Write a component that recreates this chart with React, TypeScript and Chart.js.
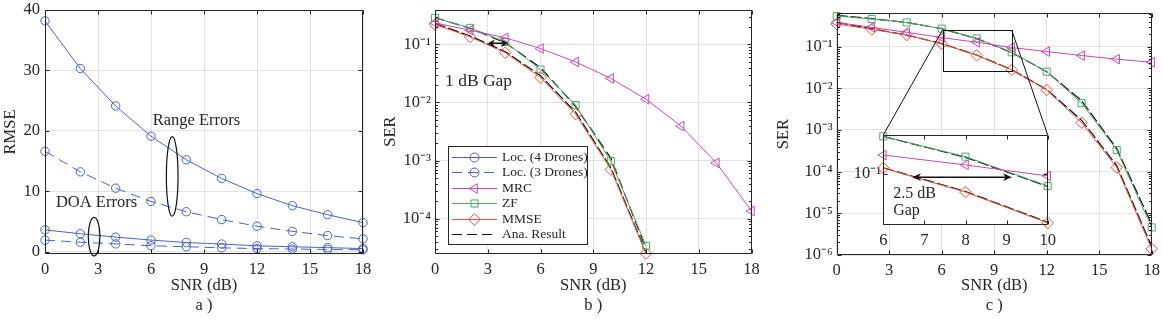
import React, { useEffect, useRef } from "react";
import { Chart, registerables } from "chart.js";
import { drawPoint } from "chart.js/helpers";

Chart.register(...registerables);

// ---------------- data ----------------
const snr = [0, 2, 4, 6, 8, 10, 12, 14, 16, 18];
const snrShort = [0, 2, 4, 6, 8, 10, 12];

// panel a (RMSE)
const rangeLoc4 = [38.2, 30.3, 24.1, 19.1, 15.2, 12.1, 9.6, 7.6, 6.1, 4.8];
const rangeLoc3 = [16.6, 13.2, 10.5, 8.3, 6.6, 5.3, 4.2, 3.35, 2.65, 2.1];
const doaLoc4 = [3.6, 2.95, 2.4, 1.9, 1.5, 1.25, 0.95, 0.8, 0.65, 0.5];
const doaLoc3 = [1.9, 1.55, 1.27, 0.97, 0.8, 0.62, 0.5, 0.42, 0.35, 0.3];

// panel b (SER)
const bMRC = [0.235, 0.176, 0.13, 0.085, 0.05, 0.026, 0.0114, 0.0039, 0.00091, 0.000135];
const bZF = [0.286, 0.193, 0.11, 0.037, 0.009, 0.00098, 3.4e-5];
const bMMSE = [0.22, 0.135, 0.072, 0.027, 0.0063, 0.0007, 2.5e-5];
const bAnaZF = [0.29, 0.19, 0.107, 0.04, 0.0085, 0.0011, 3.0e-5];
const bAnaMMSE = [0.23, 0.14, 0.075, 0.029, 0.0068, 0.00075, 2.6e-5];

// panel c (SER)
const cMRC = [0.38, 0.29, 0.22, 0.165, 0.127, 0.095, 0.076, 0.061, 0.05, 0.042];
const cZF = [0.54, 0.46, 0.38, 0.27, 0.158, 0.073, 0.025, 0.0044, 0.00033, 4.6e-6];
const cMMSE = [0.35, 0.26, 0.19, 0.117, 0.062, 0.0275, 0.0091, 0.0015, 0.000126, 1.4e-6];
const cAnaZF = [0.56, 0.47, 0.38, 0.27, 0.155, 0.072, 0.025, 0.005, 0.00036, 5.5e-6];
const cAnaMMSE = [0.38, 0.27, 0.19, 0.118, 0.063, 0.028, 0.0093, 0.0017, 0.00014, 1.6e-6];

// ticks
const xTicks = [0, 3, 6, 9, 12, 15, 18];
const aYTicks = [0, 10, 20, 30, 40];
const bYTicks = [1e-4, 1e-3, 1e-2, 1e-1];
const cYTicks = [1e-6, 1e-5, 1e-4, 1e-3, 1e-2, 1e-1];
const insetXTicks = [6, 7, 8, 9, 10];
const insetYTicks = [1e-1];

// zoom window of panel c
const zoomX = [6.05, 10];
const zoomY = [0.026, 0.25];

// ---------------- style ----------------
const FONT = "'Liberation Serif', 'Times New Roman', serif";
const TXT = "#262626";
const GRID = "#e2e2e2";
const BLUE = "#4763c4";
const MAGENTA = "#cc48b4";
const GREEN = "#4caa66";
const RED = "#f4503a";
const BLACK = "#111111";
const NONE = "rgba(0,0,0,0)";
const TICK_SIZE = 16.5;
const ANA_DASH = [11, 3];

const SUP: Record<string, string> = {
  "-": "\u207B", "0": "\u2070", "1": "\u00B9", "2": "\u00B2", "3": "\u00B3",
  "4": "\u2074", "5": "\u2075", "6": "\u2076", "7": "\u2077", "8": "\u2078", "9": "\u2079",
};
const logLabel = (v: number) =>
  "10" + String(Math.round(Math.log10(v))).split("").map((c) => SUP[c] || c).join("");

function series(
  label: string, xs: number[], ys: number[], color: string,
  style: string | null, r: number, dash: number[], extra: any = {}
) {
  return {
    label,
    data: ys.map((y, i) => ({ x: xs[i], y })),
    borderColor: color,
    backgroundColor: NONE,
    borderWidth: 1,
    borderDash: dash,
    pointStyle: style || "circle",
    pointRadius: style ? r : 0,
    pointBorderColor: color,
    pointBackgroundColor: NONE,
    pointBorderWidth: 1,
    tension: 0,
    fill: false,
    clip: false,
    ...extra,
  };
}

function ana(label: string, xs: number[], ys: number[], extra: any = {}) {
  return series(label, xs, ys, BLACK, null, 0, ANA_DASH, { borderWidth: 1.2, ...extra });
}

function xAxis(min: number, max: number, ticks: number[], height: number, title: string[] | null, grid = true) {
  return {
    type: "linear",
    min, max, bounds: "data",
    afterBuildTicks: (s: any) => { s.ticks = ticks.map((v) => ({ value: v })); },
    afterFit: (s: any) => { s.height = height; s.paddingLeft = 0; s.paddingRight = 0; s.paddingTop = 0; s.paddingBottom = 0; },
    grid: { display: grid, color: GRID, lineWidth: 1, drawTicks: false },
    border: { display: false },
    ticks: {
      font: { family: FONT, size: TICK_SIZE }, color: TXT, padding: 6,
      maxRotation: 0, autoSkip: false, callback: (v: any) => String(v),
    },
    title: title
      ? { display: true, text: title, color: TXT, font: { family: FONT, size: 16.5, lineHeight: 1.22 }, padding: { top: 0, bottom: 10 } }
      : { display: false },
  };
}

function yAxis(type: string, min: number, max: number, ticks: number[], width: number, title: string | null, pad: number, grid = true) {
  return {
    type, min, max, bounds: "data",
    afterBuildTicks: (s: any) => { s.ticks = ticks.map((v) => ({ value: v })); },
    afterFit: (s: any) => { s.width = width; s.paddingLeft = 0; s.paddingRight = 0; s.paddingTop = 0; s.paddingBottom = 0; },
    grid: { display: grid, color: GRID, lineWidth: 1, drawTicks: false },
    border: { display: false },
    ticks: {
      font: { family: FONT, size: TICK_SIZE }, color: TXT, padding: pad, autoSkip: false,
      callback: (v: any) => (type === "logarithmic" ? logLabel(Number(v)) : String(v)),
    },
    title: title
      ? { display: true, text: title, color: TXT, font: { family: FONT, size: 16.5, lineHeight: 1.22 }, padding: { top: 1, bottom: 0 } }
      : { display: false },
  };
}

function framePlugin(id: string, logY: boolean) {
  return {
    id,
    afterDatasetsDraw(chart: any) {
      const { ctx, chartArea: a } = chart;
      const xs = chart.scales.x, ys = chart.scales.y;
      const L = Math.round(a.left) + 0.5, R = Math.round(a.right) - 0.5;
      const T = Math.round(a.top) + 0.5, B = Math.round(a.bottom) - 0.5;
      ctx.save();
      ctx.strokeStyle = TXT;
      ctx.lineWidth = 1;
      ctx.setLineDash([]);
      ctx.beginPath();
      ctx.rect(L, T, R - L, B - T);
      const tl = 4;
      xs.ticks.forEach((t: any) => {
        const x = Math.round(xs.getPixelForValue(t.value)) + 0.5;
        ctx.moveTo(x, B); ctx.lineTo(x, B - tl);
        ctx.moveTo(x, T); ctx.lineTo(x, T + tl);
      });
      ys.ticks.forEach((t: any) => {
        const y = Math.round(ys.getPixelForValue(t.value)) + 0.5;
        ctx.moveTo(L, y); ctx.lineTo(L + tl, y);
        ctx.moveTo(R, y); ctx.lineTo(R - tl, y);
      });
      if (logY) {
        const k0 = Math.floor(Math.log10(ys.min)), k1 = Math.ceil(Math.log10(ys.max));
        for (let k = k0; k <= k1; k++) {
          for (let m = 2; m <= 9; m++) {
            const v = m * Math.pow(10, k);
            if (v <= ys.min || v >= ys.max) continue;
            const y = Math.round(ys.getPixelForValue(v)) + 0.5;
            ctx.moveTo(L, y); ctx.lineTo(L + 2.5, y);
            ctx.moveTo(R, y); ctx.lineTo(R - 2.5, y);
          }
        }
      }
      ctx.stroke();
      ctx.restore();
    },
  };
}

function doubleArrow(ctx: CanvasRenderingContext2D, x1: number, x2: number, y: number, hl: number, hw: number) {
  ctx.save();
  ctx.strokeStyle = BLACK;
  ctx.fillStyle = BLACK;
  ctx.lineWidth = 1.5;
  ctx.beginPath();
  ctx.moveTo(x1 + hl * 0.5, y);
  ctx.lineTo(x2 - hl * 0.5, y);
  ctx.stroke();
  ctx.beginPath();
  ctx.moveTo(x1, y); ctx.lineTo(x1 + hl, y - hw); ctx.lineTo(x1 + hl * 0.7, y); ctx.lineTo(x1 + hl, y + hw); ctx.closePath();
  ctx.moveTo(x2, y); ctx.lineTo(x2 - hl, y - hw); ctx.lineTo(x2 - hl * 0.7, y); ctx.lineTo(x2 - hl, y + hw); ctx.closePath();
  ctx.fill();
  ctx.restore();
}

function text(ctx: CanvasRenderingContext2D, s: string, x: number, y: number, size: number) {
  ctx.save();
  ctx.fillStyle = TXT;
  ctx.font = `${size}px ${FONT}`;
  ctx.textAlign = "left";
  ctx.textBaseline = "middle";
  ctx.fillText(s, x, y);
  ctx.restore();
}

const baseOptions = (padding: any) => ({
  responsive: false,
  maintainAspectRatio: false,
  animation: false,
  events: [],
  devicePixelRatio: 1,
  layout: { padding },
  plugins: { legend: { display: false }, tooltip: { enabled: false }, title: { display: false } },
});

export default function App() {
  const aRef = useRef<HTMLCanvasElement>(null);
  const bRef = useRef<HTMLCanvasElement>(null);
  const cRef = useRef<HTMLCanvasElement>(null);
  const iRef = useRef<HTMLCanvasElement>(null);

  useEffect(() => {
    const charts: Chart[] = [];

    // ---------- panel a ----------
    const annotA = {
      id: "annotA",
      afterDraw(chart: any) {
        const { ctx } = chart;
        const X = (v: number) => chart.scales.x.getPixelForValue(v);
        const Y = (v: number) => chart.scales.y.getPixelForValue(v);
        text(ctx, "Range Errors", X(6.1), Y(21.7), 16.5);
        text(ctx, "DOA Errors", X(0.62), Y(8.1), 16.5);
        ctx.save();
        ctx.strokeStyle = BLACK;
        ctx.lineWidth = 1.2;
        const ell = (cx: number, cy: number, rx: number, ry: number) => {
          ctx.beginPath();
          ctx.ellipse(X(cx), Y(cy), Math.abs(X(cx + rx) - X(cx)), Math.abs(Y(cy + ry) - Y(cy)), 0, 0, Math.PI * 2);
          ctx.stroke();
        };
        ell(7.2, 12.45, 0.33, 6.6);
        ell(2.78, 2.48, 0.33, 3.2);
        ctx.restore();
      },
    };
    charts.push(new Chart(aRef.current as HTMLCanvasElement, {
      type: "line",
      data: {
        datasets: [
          series("Range (4 Drones)", snr, rangeLoc4, BLUE, "circle", 4.2, []),
          series("Range (3 Drones)", snr, rangeLoc3, BLUE, "circle", 4.2, [10, 6]),
          series("DOA (4 Drones)", snr, doaLoc4, BLUE, "circle", 4.2, []),
          series("DOA (3 Drones)", snr, doaLoc3, BLUE, "circle", 4.2, [10, 6]),
        ] as any,
      },
      options: {
        ...baseOptions({ left: 0, right: 12, top: 10, bottom: 0 }),
        scales: {
          x: xAxis(0, 18, xTicks, 72, ["SNR (dB)", "a )"]),
          y: yAxis("linear", -0.4, 40, aYTicks, 45, "RMSE", 5),
        },
      } as any,
      plugins: [framePlugin("frameA", false), annotA] as any,
    }));

    // ---------- panel b ----------
    const annotB = {
      id: "annotB",
      afterDraw(chart: any) {
        const { ctx, chartArea: a } = chart;
        const X = (v: number) => chart.scales.x.getPixelForValue(v);
        const Y = (v: number) => chart.scales.y.getPixelForValue(v);
        text(ctx, "1 dB Gap", X(0.57), Y(0.023), 17.5);
        doubleArrow(ctx, X(3.0), X(4.15), Y(0.105), 7, 3.8);
        // legend
        const items = chart.data.datasets.filter((d: any) => d.inLegend);
        const w = 139, h = 98, rowH = 15.45;
        const x0 = Math.round(a.left + 13), y0 = Math.round(a.bottom - 10 - h);
        ctx.save();
        ctx.fillStyle = "#ffffff";
        ctx.fillRect(x0, y0, w, h);
        ctx.strokeStyle = TXT;
        ctx.lineWidth = 1;
        ctx.strokeRect(x0 + 0.5, y0 + 0.5, w, h);
        items.forEach((d: any, i: number) => {
          const y = Math.round(y0 + 11 + i * rowH) + 0.5;
          ctx.strokeStyle = d.borderColor;
          ctx.lineWidth = d.borderWidth;
          ctx.setLineDash(d.borderDash || []);
          ctx.beginPath();
          ctx.moveTo(x0 + 4, y);
          ctx.lineTo(x0 + 49, y);
          ctx.stroke();
          ctx.setLineDash([]);
          if (d.pointRadius > 0) {
            ctx.fillStyle = NONE;
            ctx.strokeStyle = d.borderColor;
            ctx.lineWidth = 1;
            drawPoint(ctx, { pointStyle: d.pointStyle, radius: d.pointRadius, rotation: d.pointRotation || 0, borderWidth: 1 } as any, x0 + 26.5, y);
          }
          ctx.fillStyle = TXT;
          ctx.font = `13.5px ${FONT}`;
          ctx.textAlign = "left";
          ctx.textBaseline = "middle";
          ctx.fillText(d.label, x0 + 54, y);
        });
        ctx.restore();
      },
    };
    charts.push(new Chart(bRef.current as HTMLCanvasElement, {
      type: "line",
      data: {
        datasets: [
          series("Loc. (4 Drones)", [], [], BLUE, "circle", 4.5, [], { inLegend: true }),
          series("Loc. (3 Drones)", [], [], BLUE, "circle", 4.5, [10, 6], { inLegend: true }),
          series("MRC", snr, bMRC, MAGENTA, "triangle", 5.5, [], { pointRotation: -90, inLegend: true }),
          series("ZF", snrShort, bZF, GREEN, "rect", 5, [], { inLegend: true }),
          series("MMSE", snrShort, bMMSE, RED, "rectRot", 5.8, [], { inLegend: true }),
          ana("Ana. Result", snrShort, bAnaZF, { inLegend: true, borderDash: [10, 5] }),
          ana("Ana. Result (MMSE)", snrShort, bAnaMMSE, { inLegend: false }),
        ] as any,
      },
      options: {
        ...baseOptions({ left: 0, right: 18.5, top: 9.5, bottom: 0 }),
        scales: {
          x: xAxis(0, 18, xTicks, 72.5, ["SNR (dB)", "b )"]),
          y: yAxis("logarithmic", 2.5e-5, 0.4, bYTicks, 55, "SER", 4),
        },
      } as any,
      plugins: [framePlugin("frameB", true), annotB] as any,
    }));

    // ---------- panel c ----------
    const zoomRect = {
      id: "zoomRect",
      afterDraw(chart: any) {
        const { ctx } = chart;
        const X = (v: number) => chart.scales.x.getPixelForValue(v);
        const Y = (v: number) => chart.scales.y.getPixelForValue(v);
        ctx.save();
        ctx.strokeStyle = BLACK;
        ctx.lineWidth = 1;
        const l = Math.round(X(zoomX[0])) + 0.5, r = Math.round(X(zoomX[1])) + 0.5;
        const t = Math.round(Y(zoomY[1])) + 0.5, b = Math.round(Y(zoomY[0])) + 0.5;
        ctx.strokeRect(l, t, r - l, b - t);
        ctx.restore();
      },
    };
    const mainC = new Chart(cRef.current as HTMLCanvasElement, {
      type: "line",
      data: {
        datasets: [
          series("MRC", snr, cMRC, MAGENTA, "triangle", 5.5, [], { pointRotation: -90 }),
          series("ZF", snr, cZF, GREEN, "rect", 5, []),
          series("MMSE", snr, cMMSE, RED, "rectRot", 5.8, []),
          ana("Ana. Result", snr, cAnaZF),
          ana("Ana. Result (MMSE)", snr, cAnaMMSE),
        ] as any,
      },
      options: {
        ...baseOptions({ left: 0, right: 11.3, top: 13.3, bottom: 0 }),
        scales: {
          x: xAxis(0, 18, xTicks, 71, ["SNR (dB)", "c )"]),
          y: yAxis("logarithmic", 1e-6, 0.63, cYTicks, 63.7, "SER", 4),
        },
      } as any,
      plugins: [framePlugin("frameC", true), zoomRect] as any,
    });
    charts.push(mainC);

    // ---------- inset of panel c ----------
    const insetDeco = {
      id: "insetDeco",
      beforeDraw(chart: any) {
        const { ctx, chartArea: a } = chart;
        ctx.save();
        ctx.fillStyle = "#ffffff";
        ctx.fillRect(a.left, a.top, a.right - a.left, a.bottom - a.top);
        ctx.restore();
      },
      afterDraw(chart: any) {
        const { ctx, chartArea: a } = chart;
        const X = (v: number) => chart.scales.x.getPixelForValue(v);
        const Y = (v: number) => chart.scales.y.getPixelForValue(v);
        text(ctx, "2.5 dB", X(6.24), Y(0.0587), 16);
        text(ctx, "Gap", X(6.24), Y(0.038), 16);
        doubleArrow(ctx, X(6.7), X(9.13), Y(0.092), 9, 3.8);
        // connectors from zoom window of the main chart
        const mx = (v: number) => mainC.scales.x.getPixelForValue(v);
        const my = (v: number) => mainC.scales.y.getPixelForValue(v);
        ctx.save();
        ctx.strokeStyle = BLACK;
        ctx.lineWidth = 1;
        ctx.beginPath();
        ctx.moveTo(mx(zoomX[0]), my(zoomY[1]));
        ctx.lineTo(a.left, a.top);
        ctx.moveTo(mx(zoomX[1]), my(zoomY[1]));
        ctx.lineTo(a.right, a.top);
        ctx.stroke();
        ctx.restore();
      },
    };
    const sl = (arr: number[]) => arr.slice(3, 6);
    charts.push(new Chart(iRef.current as HTMLCanvasElement, {
      type: "line",
      data: {
        datasets: [
          series("MRC", sl(snr), sl(cMRC), MAGENTA, "triangle", 5.5, [], { pointRotation: -90 }),
          series("ZF", sl(snr), sl(cZF), GREEN, "rect", 5, []),
          series("MMSE", sl(snr), sl(cMMSE), RED, "rectRot", 5.8, []),
          ana("Ana. Result", sl(snr), sl(cAnaZF)),
          ana("Ana. Result (MMSE)", sl(snr), sl(cAnaMMSE)),
        ] as any,
      },
      options: {
        ...baseOptions({ left: 80, right: 115.3, top: 135, bottom: 71 }),
        scales: {
          x: xAxis(6, 10, insetXTicks, 30, null, false),
          y: yAxis("logarithmic", 0.026, 0.28, insetYTicks, 30.3, null, 2, false),
        },
      } as any,
      plugins: [insetDeco, framePlugin("frameI", false)] as any,
    }));

    return () => charts.forEach((c) => c.destroy());
  }, []);

  return (
    <div style={{ position: "absolute", left: 0, top: 0, width: 1163, height: 326, background: "#ffffff", overflow: "hidden" }}>
      <canvas ref={aRef} width={375} height={326} style={{ position: "absolute", left: 0, top: 0 }} />
      <canvas ref={bRef} width={390} height={326} style={{ position: "absolute", left: 380, top: 0 }} />
      <canvas ref={cRef} width={390} height={326} style={{ position: "absolute", left: 773, top: 0 }} />
      <canvas ref={iRef} width={390} height={326} style={{ position: "absolute", left: 773, top: 0 }} />
    </div>
  );
}
